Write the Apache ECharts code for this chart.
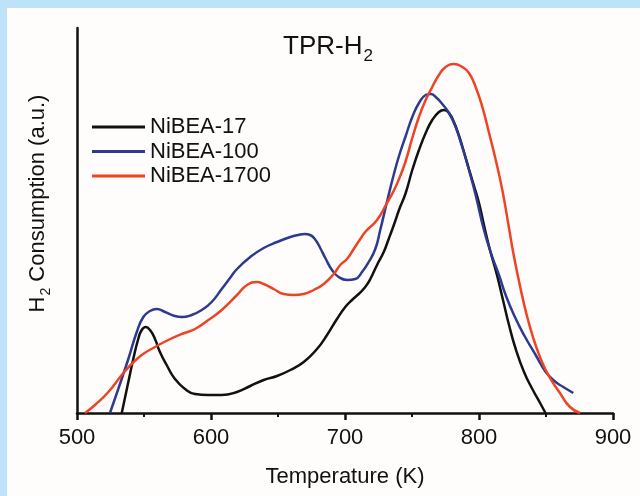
<!DOCTYPE html>
<html><head><meta charset="utf-8">
<script src="https://cdn.jsdelivr.net/npm/echarts@6/dist/echarts.min.js"></script>
<style>html,body{margin:0;padding:0;background:#fefdfb}#c{width:640px;height:496px}</style>
</head><body><div id="c"></div>
<script>
const seriesNames = ['NiBEA-17', 'NiBEA-100', 'NiBEA-1700'];
const xTicks = [500, 600, 700, 800, 900];

const t17 = [533.4,538.3,542.0,545.7,548.3,551.3,554.5,558.2,561.9,566.9,573.1,580.6,588.1,597.8,608.0,619.4,629.3,639.3,649.3,659.2,669.2,679.1,686.6,694.0,700.2,705.2,710.2,715.1,718.9,723.9,728.9,732.6,735.1,737.5,740.3,745.3,750.2,755.2,760.2,765.1,770.1,773.9,777.6,781.3,785.1,788.8,792.5,796.3,800.0,803.7,808.2,813.4,817.9,822.4,827.4,833.6,839.8,846.0,849.6];
const v17 = [0,31,54,74,83,86,83,74,61,48,34,24,19,18,18,21,27,33,37,43,51,64,78,94,106,113,119,126,134,148,161,174,183,192,203,220,243,263,280,293,301,303,300,291,277,261,244,227,210,188,163,138,113,88,64,41,24,9,0];

const t100 = [524.6,530.8,538.3,544.6,549.5,554.5,559.5,565.7,573.1,578.1,585.6,593.1,600.5,608.0,614.2,619.4,629.3,639.3,649.3,659.2,665.0,670.0,674.0,678.0,681.5,685.3,690.3,695.3,701.5,707.7,712.7,717.7,722.6,726.3,731.3,736.3,740.3,745.3,750.2,755.2,760.2,764.0,767.7,772.6,777.6,782.6,787.5,792.5,797.5,803.7,809.9,814.9,819.9,826.1,833.6,842.3,849.8,857.2,862.9,870.4];
const v100 = [0,24,54,81,96,102,104,101,97,96,98,103,111,124,135,144,156,165,171,176,178,179,178,173,165,155,143,136,133,134,141,151,164,183,211,238,257,277,296,310,318,319,316,309,300,286,266,243,218,183,156,138,118,98,78,58,41,31,26,20];

const t1700 = [506.0,513.4,523.4,533.4,540.8,548.3,558.2,568.1,578.1,588.1,598.0,608.0,619.4,626.9,634.3,639.3,646.8,654.3,661.7,669.2,676.6,684.1,691.6,696.5,701.5,706.5,711.4,715.1,723.9,731.3,736.3,740.3,745.3,750.2,755.2,760.2,765.1,770.1,775.1,781.3,787.5,792.5,797.5,802.5,807.5,812.5,817.4,822.4,825.6,830.6,835.6,840.5,845.5,851.7,860.4,867.9,875.4];
const v1700 = [0,8,21,38,49,58,66,73,79,84,93,103,118,128,131,129,124,119,118,119,123,129,139,148,154,164,174,181,193,210,222,234,252,275,296,313,326,338,346,349,346,340,326,306,280,253,223,185,160,127,98,75,56,38,20,6,0];

const font = "'Liberation Sans', Arial, Helvetica, sans-serif";
const ink = '#111111';
const colors = ['#111111', '#2d3a8f', '#ee4324'];
const pairs = (t, v) => t.map((x, i) => [x, v[i]]);
const dataSets = [pairs(t17, v17), pairs(t100, v100), pairs(t1700, v1700)];

const chart = echarts.init(document.getElementById('c'));
chart.setOption({
  backgroundColor: '#fefdfb',
  animation: false,
  textStyle: { fontFamily: font, color: ink },
  graphic: [
    { type: 'rect', shape: { x: 0, y: 0, width: 640, height: 8 }, style: { fill: '#bee3f8' }, z: 100 },
    { type: 'rect', shape: { x: 0, y: 0, width: 7, height: 496 }, style: { fill: '#bee3f8' }, z: 100 }
  ],
  title: {
    text: '{a|TPR-H}{s|2}',
    left: 283, top: 34, padding: 0,
    textStyle: {
      fontFamily: font, fontWeight: 'normal',
      rich: {
        a: { fontSize: 26, lineHeight: 26, verticalAlign: 'top', color: ink, fontFamily: font, fontWeight: 'normal' },
        s: { fontSize: 17, lineHeight: 17, verticalAlign: 'top', padding: [14, 0, 0, 1], color: ink, fontFamily: font, fontWeight: 'normal' }
      }
    }
  },
  legend: {
    data: seriesNames,
    orient: 'vertical',
    left: 92, top: 116, padding: 0,
    icon: 'rect',
    itemWidth: 53, itemHeight: 3,
    itemGap: 2.5,
    textStyle: { fontSize: 22, color: ink, fontFamily: font }
  },
  grid: { left: 77, right: 27, top: 28, bottom: 83 },
  xAxis: {
    type: 'value',
    min: xTicks[0], max: xTicks[xTicks.length - 1], interval: xTicks[1] - xTicks[0],
    axisLine: { lineStyle: { color: ink, width: 2.5 } },
    axisTick: { show: true, length: 7, lineStyle: { color: ink, width: 2.5 } },
    minorTick: { show: true, splitNumber: 2, length: 4, lineStyle: { color: ink, width: 2 } },
    axisLabel: { fontSize: 22, color: ink, margin: 14, fontFamily: font },
    splitLine: { show: false },
    name: 'Temperature (K)',
    nameLocation: 'middle', nameGap: 53,
    nameTextStyle: { fontSize: 22, color: ink, fontFamily: font }
  },
  yAxis: {
    type: 'value', min: 0, max: 385,
    axisLine: { show: true, lineStyle: { color: ink, width: 2.5 } },
    axisTick: { show: false }, axisLabel: { show: false }, splitLine: { show: false },
    name: '{a|H}{s|2}{a| Consumption (a.u.)}',
    nameLocation: 'middle', nameGap: 28, nameRotate: 90,
    nameTextStyle: {
      padding: [0, 0, 0, 34],
      rich: {
        a: { fontSize: 22, lineHeight: 22, verticalAlign: 'top', color: ink, fontFamily: font },
        s: { fontSize: 14, lineHeight: 14, verticalAlign: 'top', padding: [12, 0, 0, 1], color: ink, fontFamily: font }
      }
    }
  },
  series: seriesNames.map((n, i) => ({
    name: n, type: 'line', data: dataSets[i],
    showSymbol: false, smooth: 0.5,
    color: colors[i],
    lineStyle: { width: 2.5, color: colors[i] }
  }))
});
</script>
</body></html>
